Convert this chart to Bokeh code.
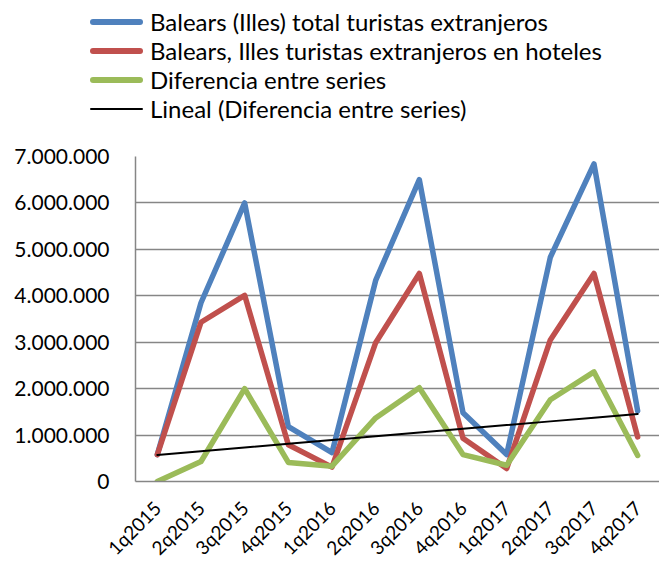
import numpy as np
from bokeh.plotting import figure
from bokeh.layouts import column
from bokeh.models import Div, FixedTicker, Range1d, FactorRange
from bokeh.embed import file_html
from bokeh.resources import INLINE

categories = ["1q2015", "2q2015", "3q2015", "4q2015", "1q2016", "2q2016",
              "3q2016", "4q2016", "1q2017", "2q2017", "3q2017", "4q2017"]
total_extranjeros = [580000, 3850000, 6000000, 1180000, 620000, 4330000,
                     6500000, 1480000, 580000, 4830000, 6840000, 1520000]
hoteles = [580000, 3430000, 4010000, 790000, 310000, 2990000,
           4480000, 930000, 280000, 3050000, 4480000, 960000]
diferencia = [0, 430000, 2000000, 410000, 330000, 1370000,
              2020000, 580000, 350000, 1760000, 2360000, 560000]
y_ticks = [0, 1000000, 2000000, 3000000, 4000000, 5000000, 6000000, 7000000]
y_tick_labels = ["0", "1.000.000", "2.000.000", "3.000.000", "4.000.000",
                 "5.000.000", "6.000.000", "7.000.000"]
series_names = ["Balears (Illes) total turistas extranjeros",
                "Balears, Illes turistas extranjeros en hoteles",
                "Diferencia entre series",
                "Lineal (Diferencia entre series)"]
series_colors = ["#4F81BD", "#C0504D", "#9BBB59", "black"]
series_widths = [5.5, 5.5, 5.5, 2]

# linear trend of the difference series
xi = np.arange(len(diferencia))
slope, intercept = np.polyfit(xi, diferencia, 1)
trend = list(intercept + slope * xi)

FONT = "Lato"

# ---- legend strip ----
rows = []
for i, (name, color, w) in enumerate(zip(series_names, series_colors, series_widths)):
    top = 4 + 29 * i
    rows.append(
        f'<div style="position:absolute;left:90px;top:{top}px;height:30px;'
        f'line-height:30px;white-space:nowrap;font-family:{FONT};font-size:24px;color:#000;">'
        f'<span style="display:inline-block;width:53px;height:{w}px;background:{color};'
        f'border-radius:3px;vertical-align:middle;"></span>'
        f'<span style="margin-left:7px;vertical-align:middle;">{name}</span></div>')
legend_div = Div(text='<div style="position:relative;width:659px;height:130px;">'
                 + "".join(rows) + '</div>', width=659, height=130, margin=0)

# ---- main chart ----
p = figure(width=659, height=440, x_range=FactorRange(*categories),
           y_range=Range1d(0, 7000000), output_backend="svg",
           toolbar_location=None, min_border_left=135, min_border_top=26,
           min_border_right=0, min_border_bottom=88, margin=0)
p.outline_line_color = None
p.background_fill_color = None
p.border_fill_color = None

for vals, c, w in zip([total_extranjeros, hoteles, diferencia, trend],
                      series_colors, series_widths):
    p.line(categories, vals, line_color=c, line_width=w,
           line_join="round", line_cap="round")

p.xgrid.grid_line_color = None
p.ygrid.grid_line_color = "#868686"
p.ygrid.grid_line_width = 1.5

p.yaxis.ticker = FixedTicker(ticks=y_ticks)
p.yaxis.major_label_overrides = {t: l for t, l in zip(y_ticks, y_tick_labels)}
p.yaxis.axis_line_color = "#868686"
p.yaxis.axis_line_width = 1.5
p.yaxis.major_tick_line_color = None
p.yaxis.minor_tick_line_color = None
p.yaxis.major_label_text_font = FONT
p.yaxis.major_label_text_font_size = "21px"
p.yaxis.major_label_text_color = "black"
p.yaxis.major_label_standoff = 20

p.xaxis.axis_line_color = "#868686"
p.xaxis.axis_line_width = 1.5
p.xaxis.major_tick_line_color = None
p.xaxis.minor_tick_line_color = None
p.xaxis.major_label_orientation = np.pi / 4
p.xaxis.major_label_text_font = FONT
p.xaxis.major_label_text_font_size = "19px"
p.xaxis.major_label_text_color = "black"
p.xaxis.major_label_standoff = 17

layout = column(legend_div, p, spacing=0)
open("out.html", "w").write(file_html(layout, INLINE))
